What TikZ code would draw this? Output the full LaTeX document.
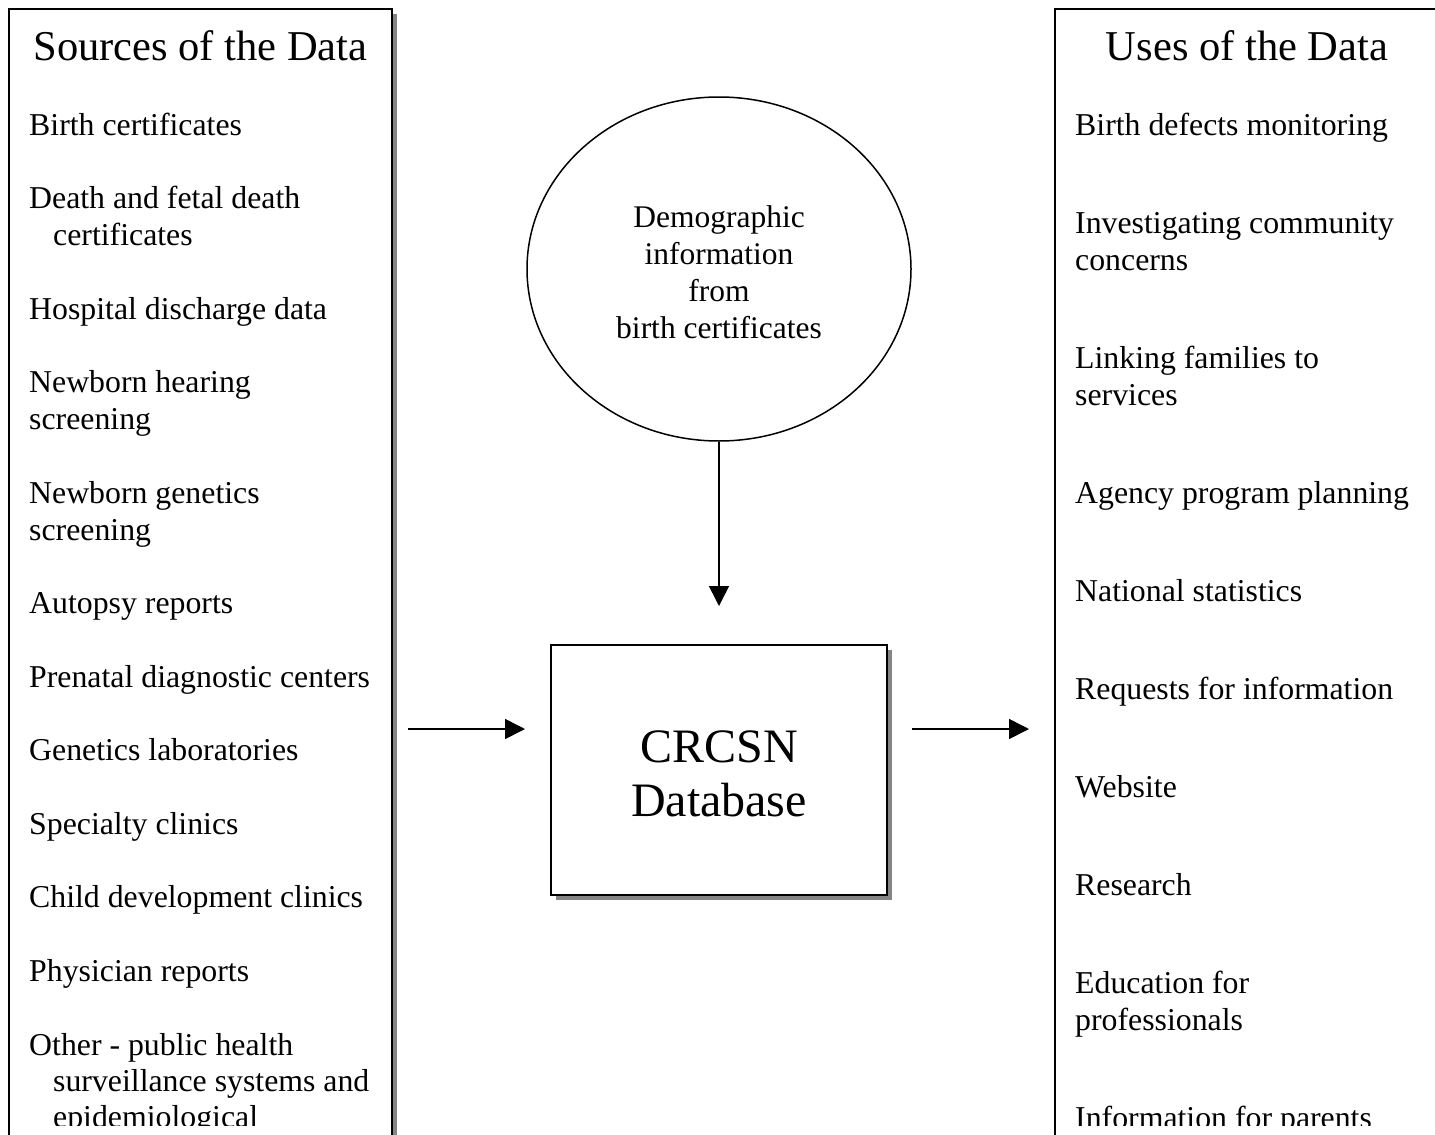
\documentclass[tikz,border=0pt]{standalone}
\usepackage{fontspec}
\setmainfont{Liberation Serif}
\usetikzlibrary{shapes.geometric,arrows.meta,shadows}
\begin{document}
\begin{tikzpicture}[x=1pt,y=-1pt,
  panel/.style={draw, line width=2pt, fill=white, inner sep=0pt,
    drop shadow={shadow xshift=5pt, shadow yshift=-5pt, fill=black!48, opacity=1}},
  bubble/.style={draw, line width=1.5pt, ellipse, inner sep=0pt},
  bubbletext/.style={inner sep=0pt, align=center, font=\fontsize{31.5pt}{37pt}\selectfont},
  dbtext/.style={inner sep=0pt, align=center, font=\fontsize{48pt}{54pt}\selectfont},
  title/.style={anchor=base, inner sep=0pt, font=\fontsize{42.5pt}{50pt}\selectfont},
  item/.style={anchor=base west, inner sep=0pt, font=\fontsize{31.8pt}{37pt}\selectfont},
  arr/.style={line width=1.6pt, -{Triangle[length=20pt,width=20pt]}}
]
\useasboundingbox (0,0) rectangle (1435,1135);
\clip (0,0) rectangle (1435,1135);

% side panels and the central database box
\node[panel, minimum width=383pt, minimum height=1200pt] (src) at (200.5,609) {};
\node[panel, minimum width=445pt, minimum height=1200pt] (uses) at (1277.5,609) {};
\node[panel, minimum width=336pt, minimum height=250pt] (db) at (719,770) {};
\node[dbtext] (dbt) at ([yshift=-3.5pt]db.center) {CRCSN\\Database};
\node[bubble, minimum width=384pt, minimum height=344pt] (demo) at (719,269) {};
\node[bubbletext] (demot) at ([yshift=-3pt]demo.center)
  {Demographic\\information\\from\\birth certificates};

% panel headings
\node[title] (srct) at (200.5,60) {Sources of the Data};
\node[title] (uset) at (1247,60) {Uses of the Data};

% the panel text runs past the bottom edge of the panels and is cut off there
\begin{scope}
\clip (0,0) rectangle (1435,1125);
% data sources
\node[item] (s1)  at (29,135)  {Birth certificates};
\node[item] (s2)  at (29,208)  {Death and fetal death};
\node[item] (s2b) at (53,245)  {certificates};
\node[item] (s3)  at (29,319)  {Hospital discharge data};
\node[item] (s4)  at (29,392)  {Newborn hearing};
\node[item] (s4b) at (29,429)  {screening};
\node[item] (s5)  at (29,503)  {Newborn genetics};
\node[item] (s5b) at (29,540)  {screening};
\node[item] (s6)  at (29,613)  {Autopsy reports};
\node[item] (s7)  at (29,687)  {Prenatal diagnostic centers};
\node[item] (s8)  at (29,760)  {Genetics laboratories};
\node[item] (s9)  at (29,834)  {Specialty clinics};
\node[item] (s10) at (29,907)  {Child development clinics};
\node[item] (s11) at (29,981)  {Physician reports};
\node[item] (s12) at (29,1055) {Other - public health};
\node[item] (s12b) at (53,1091) {surveillance systems and};
\node[item] (s12c) at (53,1127) {epidemiological};

% uses of the data
\node[item] (u1)  at (1075,135)  {Birth defects monitoring};
\node[item] (u2)  at (1075,233)  {Investigating community};
\node[item] (u2b) at (1075,270)  {concerns};
\node[item] (u3)  at (1075,368)  {Linking families to};
\node[item] (u3b) at (1075,405)  {services};
\node[item] (u4)  at (1075,503)  {Agency program planning};
\node[item] (u5)  at (1075,601)  {National statistics};
\node[item] (u6)  at (1075,699)  {Requests for information};
\node[item] (u7)  at (1075,797)  {Website};
\node[item] (u8)  at (1075,895)  {Research};
\node[item] (u9)  at (1075,993)  {Education for};
\node[item] (u9b) at (1075,1030) {professionals};
\node[item] (u10) at (1075,1128) {Information for parents};
\end{scope}

% flow arrows
\coordinate (flow) at (0,729);
\draw[arr, shorten >=38pt] (demo.south) -- (db.north);
\draw[arr, shorten <=15pt, shorten >=25pt] (src.east |- flow) -- (db.west |- flow);
\draw[arr, shorten <=24pt, shorten >=25pt] (db.east |- flow) -- (uses.west |- flow);
\end{tikzpicture}
\end{document}
